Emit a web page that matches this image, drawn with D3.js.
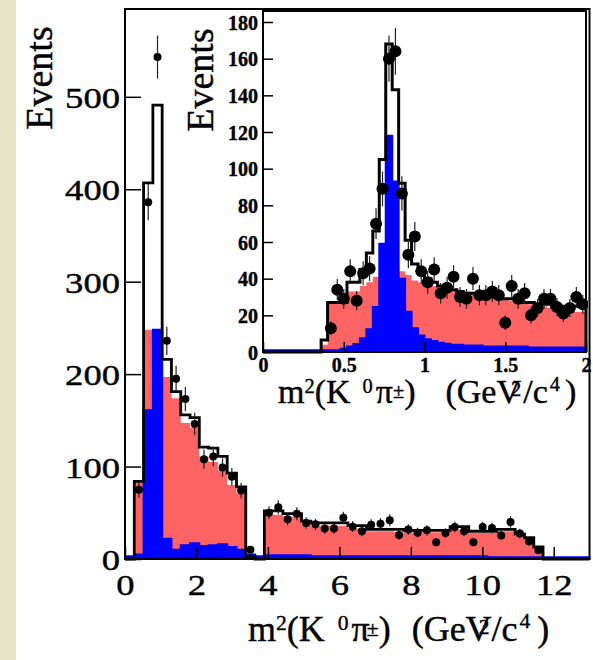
<!DOCTYPE html>
<html>
<head>
<meta charset="utf-8">
<script src="https://cdn.jsdelivr.net/npm/d3@7"></script>
<style>
  html, body { margin: 0; padding: 0; background: #fff; }
  text { font-family: "Liberation Serif", "Times New Roman", serif; stroke: #000; stroke-width: 0.4px; }
</style>
</head>
<body>
<svg id="chart" width="593" height="660"></svg>
<script>
// Main plot: m^2(K0 pi+-), 50 bins of 0.26 from 0 to 13
const mainRange = [0, 13];
const mainCounts = [null, 75, 386, 543, 236, 195, 173, 146, 108, 111, 99, 89, 74, 10, null,
  50, 56, 43, 49, 39, 37.5, 33, 33, 44.5, 35, 30, 37, 38, 42, 26, 32, 28.5, 31, 18, 28,
  34.5, 30, 18, 34.5, 33.5, 25.5, 40, 27.5, 19, 9.5, null, null, null, null, null];
const mainTotal = [0, 84, 407, 491, 216, 181, 156, 153, 121, 120, 111, 93, 78, 3, 0,
  52, 52, 49, 49, 41, 39, 39, 39, 39, 36, 36, 32, 32, 32, 32, 31, 31, 31, 31, 31,
  35, 35, 30, 30, 30, 32, 32, 27, 23, 13, 0, 0, 0, 0, 0];
const mainBkg = [0, 83, 248, 248, 197, 174, 147, 142, 111, 105, 96, 80, 71, 5, 0,
  48, 48, 46, 46, 38, 36, 36, 36, 36, 33, 33, 30, 30, 30, 29, 29, 29, 29, 29, 29,
  32, 32, 28, 28, 28, 30, 30, 25, 21, 11, 0, 0, 0, 0, 0];
const mainSig = [3, 5, 161, 248, 22, 10, 15, 17, 14, 15, 16, 13, 10, 5, 3,
  4, 4, 4, 4, 4, 3, 3, 3, 3, 3, 3, 3, 3, 3, 3, 3, 3, 3, 3, 3,
  3, 3, 3, 3, 2, 2, 2, 2, 2, 2, 2, 2, 2, 2, 2];
const mainXTicks = [0, 2, 4, 6, 8, 10, 12];
const mainYTicks = [0, 100, 200, 300, 400, 500];

// Inset: zoom on 0-2, 50 bins of 0.04
const insetRange = [0, 2];
const insetCounts = [null, null, null, null, null, null, null, null, null, null,
  13, 34, 29, 44, 28, 43, 45.5, 70, 89, 160, 164, 86.5, 53, 63, 44, 38, 45, 32, 35, 41,
  30, 29, 40, 31, 31, 33, 31, 16, 36, 29, 32, 20, 24, 29, 29, 24.5, 21, 24, 30, 26];
const insetTotal = [0, 0, 0, 0, 0, 0, 0, 0, 0, 6.5,
  27, 27, 27, 38, 38, 45, 54, 66, 105, 168, 143, 92, 61, 48, 44, 40, 38, 36, 35, 34,
  33, 32, 32, 31, 31, 30, 30, 29, 29, 28, 27, 27, 26, 26, 26, 25, 25, 25, 25, 25];
const insetBkg = [0, 0, 0, 0, 0, 0, 0, 0, 0, 4,
  27, 27, 27, 33, 33, 36, 38, 41, 43, 44, 44, 44, 42, 39, 38, 37, 36, 35, 34, 34,
  33, 33, 32, 32, 31, 30, 30, 29, 28, 27, 27, 26, 25, 25, 24, 24, 23, 23, 22, 22];
const insetSig = [1, 1, 1, 1, 1, 1, 1, 1, 1, 1, 1, 1,
  1.8, 3, 4.4, 7.5, 12.4, 24.5, 59, 118, 93, 40, 22, 13, 9, 7, 6, 5, 4.5, 4, 4,
  3.5, 3.5, 3.5, 3, 3, 3, 3, 3, 3, 3, 2.5, 2.5, 2.5, 2.5, 2.5, 2.5, 2.5, 2.5, 2.5];
const insetXTicks = [0, 0.5, 1, 1.5, 2];
const insetYTicks = [0, 20, 40, 60, 80, 100, 120, 140, 160, 180];

const RED = "#ff6464";
const BLUE = "#0000ff";

const svg = d3.select("#chart");
svg.append("rect").attr("width", 593).attr("height", 660).attr("fill", "#fff");
svg.append("rect").attr("width", 16).attr("height", 660).attr("fill", "#e7e5c6");

// turn bin contents into step points [edge, value]
function steps(vals, range, closed) {
  const w = (range[1] - range[0]) / vals.length;
  const pts = vals.map((v, i) => [range[0] + i * w, v]);
  pts.push([range[1], vals[vals.length - 1]]);
  if (closed) {
    pts.unshift([range[0], 0]);
    pts.push([range[1], 0]);
  }
  return pts;
}

function drawPanel(cfg) {
  const { x, y, id } = cfg;
  const g = svg.append("g");
  const [x0, x1] = x.range();
  const [yb, yt] = y.range();

  if (cfg.white) {
    g.append("rect").attr("x", x0).attr("y", yt).attr("width", x1 - x0)
      .attr("height", yb - yt).attr("fill", "#fff");
  }

  g.append("clipPath").attr("id", id).append("rect")
    .attr("x", x0 - 2).attr("y", yt).attr("width", x1 - x0 + 4).attr("height", yb - yt + 3);
  const plot = g.append("g").attr("clip-path", `url(#${id})`);

  const area = d3.area().curve(d3.curveStepAfter)
    .x(d => x(d[0])).y0(y(0)).y1(d => y(d[1]));
  const line = d3.line().curve(d3.curveStepAfter)
    .x(d => x(d[0])).y(d => y(d[1]));

  plot.append("path").datum(steps(cfg.bkg, cfg.range)).attr("d", area).attr("fill", RED);
  plot.append("path").datum(steps(cfg.sig, cfg.range)).attr("d", area)
    .attr("fill", BLUE).attr("stroke", BLUE).attr("stroke-width", 2);
  plot.append("path").datum(steps(cfg.total, cfg.range, true)).attr("d", line)
    .attr("fill", "none").attr("stroke", "#000").attr("stroke-width", cfg.lineW)
    .attr("stroke-linejoin", "miter");

  const w = (cfg.range[1] - cfg.range[0]) / cfg.counts.length;
  const pts = cfg.counts.map((v, i) => ({ c: cfg.range[0] + (i + 0.5) * w, v }))
    .filter(d => d.v !== null);
  plot.selectAll("line.err").data(pts).join("line").attr("class", "err")
    .attr("x1", d => x(d.c)).attr("x2", d => x(d.c))
    .attr("y1", d => y(d.v + Math.sqrt(d.v))).attr("y2", d => y(Math.max(0, d.v - Math.sqrt(d.v))))
    .attr("stroke", "#222").attr("stroke-width", 1.2);
  plot.selectAll("circle.dot").data(pts).join("circle").attr("class", "dot")
    .attr("cx", d => x(d.c)).attr("cy", d => y(d.v)).attr("r", cfg.dotR).attr("fill", "#000");

  // axes, ticks pointing inward
  const axX = g.append("g").attr("transform", `translate(0,${yb})`);
  axX.call(d3.axisBottom(x).tickValues(cfg.xMinor).tickSize(-cfg.xMinorLen).tickFormat(""));
  axX.call(d3.axisBottom(x).tickValues(cfg.xTicks).tickSize(-cfg.xMajorLen)
    .tickPadding(cfg.xPad).tickFormat(cfg.fmt));
  const axY = g.append("g").attr("transform", `translate(${x0},0)`);
  axY.call(d3.axisLeft(y).tickValues(cfg.yMinor).tickSize(-cfg.yMinorLen).tickFormat(""));
  axY.call(d3.axisLeft(y).tickValues(cfg.yTicks).tickSize(-cfg.yMajorLen)
    .tickPadding(cfg.yPad).tickFormat(cfg.fmt));
  g.selectAll(".domain").remove();
  g.selectAll(".tick line").attr("stroke", "#000").attr("stroke-width", 1.5);
  g.selectAll(".tick text").attr("fill", "#000")
    .attr("font-family", "Liberation Serif, serif")
    .attr("font-size", cfg.labelSize).attr("font-weight", cfg.labelWeight);
  axY.selectAll(".tick text").attr("dy", "0.36em");
  if (cfg.digitW) {
    g.selectAll(".tick text").filter(function () { return this.textContent.length > 0; })
      .attr("textLength", function () { return this.textContent.length * cfg.digitW; })
      .attr("lengthAdjust", "spacingAndGlyphs");
  }

  g.append("rect").attr("x", x0).attr("y", yt).attr("width", x1 - x0).attr("height", yb - yt)
    .attr("fill", "none").attr("stroke", "#000").attr("stroke-width", 2);
  return g;
}

function yTitle(x, y) {
  svg.append("text").attr("transform", `translate(${x},${y}) rotate(-90)`)
    .attr("text-anchor", "middle").attr("font-size", 38).attr("fill", "#000").text("Events");
}

// m^2(K^0 pi^+-)  (GeV^2/c^4) with ROOT-like placement of the scripts
function xTitle(x, y, size, o) {
  const s = size * 0.6;
  const k = size / 34;
  const t = svg.append("text").attr("x", x).attr("y", y).attr("font-size", size).attr("fill", "#000");
  t.append("tspan").text("m");
  t.append("tspan").attr("font-size", s).attr("dy", -10 * k).text("2");
  t.append("tspan").attr("dy", 10 * k).text("(K");
  t.append("tspan").attr("font-size", s).attr("dx", o.kGap).attr("dy", -10 * k).text("0");
  t.append("tspan").attr("dx", 3).attr("dy", 10 * k).text("π");
  t.append("tspan").attr("font-size", s).attr("dx", o.pmDx).attr("dy", -5 * k).text("±");
  t.append("tspan").attr("dy", 5 * k).text(")");
  t.append("tspan").attr("dx", o.midGap).text("(GeV");
  t.append("tspan").attr("font-size", s).attr("dx", o.vDx).attr("dy", -7 * k).text("2");
  t.append("tspan").attr("dx", 2).attr("dy", 7 * k).text("/c");
  t.append("tspan").attr("font-size", s).attr("dx", 2).attr("dy", -12 * k).text("4");
  t.append("tspan").attr("dx", o.endGap).attr("dy", 12 * k).text(")");
}

const mainX = d3.scaleLinear().domain(mainRange).range([125, 589.5]);
const mainY = d3.scaleLinear().domain([0, 595]).range([559, 9]);
drawPanel({
  id: "clipMain", x: mainX, y: mainY, range: mainRange,
  counts: mainCounts, total: mainTotal, bkg: mainBkg, sig: mainSig,
  dotR: 4, lineW: 2.8,
  xTicks: mainXTicks, xMinor: d3.range(0, 13.01, 0.5), xMajorLen: 12, xMinorLen: 6, xPad: 15,
  yTicks: mainYTicks, yMinor: d3.range(0, 595, 20), yMajorLen: 16, yMinorLen: 8, yPad: 5,
  fmt: d3.format("d"), labelSize: 29, labelWeight: "normal", digitW: 18.3
});

const insetX = d3.scaleLinear().domain(insetRange).range([263, 586]);
const insetY = d3.scaleLinear().domain([0, 186]).range([352, 11]);
drawPanel({
  id: "clipInset", x: insetX, y: insetY, range: insetRange, white: true,
  counts: insetCounts, total: insetTotal, bkg: insetBkg, sig: insetSig,
  dotR: 6, lineW: 3,
  xTicks: insetXTicks, xMinor: d3.range(0, 2.001, 0.1), xMajorLen: 10, xMinorLen: 6, xPad: 6,
  yTicks: insetYTicks, yMinor: d3.range(0, 186, 5), yMajorLen: 10, yMinorLen: 5, yPad: 5,
  fmt: d => String(d), labelSize: 20, labelWeight: "bold", digitW: null
});

yTitle(52, 78);
yTitle(213, 80);
xTitle(248, 641, 36, { kGap: 13, pmDx: -3, midGap: 21, vDx: -13, endGap: 7 });
xTitle(278, 403, 34, { kGap: 12, pmDx: 0, midGap: 30, vDx: -10, endGap: 5 });
</script>
</body>
</html>
